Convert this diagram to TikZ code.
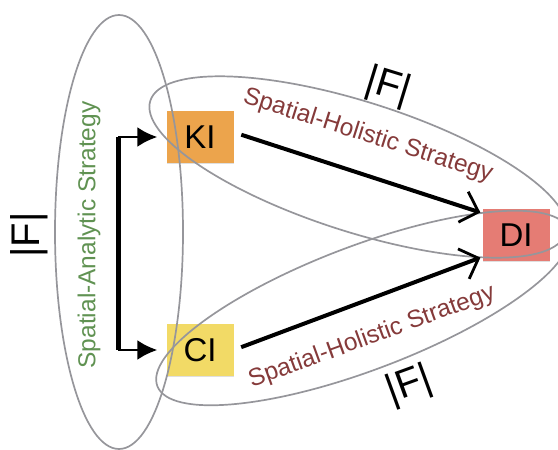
\documentclass[tikz,border=0pt]{standalone}
\usepackage{fontspec}
\setmainfont{Liberation Sans}
\usetikzlibrary{arrows.meta,shadows}
\definecolor{kiorange}{RGB}{236,164,76}
\definecolor{ciyellow}{RGB}{242,218,102}
\definecolor{disalmon}{RGB}{229,124,116}
\definecolor{ringgray}{RGB}{150,150,155}
\definecolor{analyticgreen}{RGB}{96,146,82}
\definecolor{holisticred}{RGB}{133,58,58}

\begin{document}
\begin{tikzpicture}[
                x=1pt,
                y=-1pt,
                box/.style={
                    rectangle,
                    minimum width=67pt,
                    minimum height=52pt,
                    inner sep=0pt,
                    font=\fontsize{33}{33}\selectfont,
                    drop shadow={opacity=0.25,shadow xshift=0.8pt,shadow yshift=-1.2pt}
                },
                ring/.style={
                    draw=ringgray,
                    line width=1.7pt
                },
                strategy/.style={
                    inner sep=0pt,
                    font=\fontsize{24.5}{24.5}\selectfont
                },
                card/.style={
                    inner sep=0pt,
                    font=\fontsize{40}{40}\selectfont
                },
                spine/.style={
                    line width=5pt
                },
                branch/.style={
                    line width=2.4pt,
                    shorten >=9pt,
                    -{Latex[length=20pt,width=20pt]}
                },
                stroke/.style={
                    line width=4pt,
                    shorten <=8pt,
                    shorten >=2pt,
                    -{Straight Barb[length=16pt,width=32pt,line width=2.8pt]}
                }
            ]

                \useasboundingbox (0,0) rectangle (558,450);

                \node[box, fill=kiorange] (KI) at (200,137) {KI};
                \node[box, fill=ciyellow] (CI) at (200,350) {CI};
                \node[box, fill=disalmon] (DI) at (516,235) {DI};

                \draw[ring] (119,232) ellipse [x radius=64pt, y radius=217pt];
                \draw[ring, rotate around={-17.7:(358,167)}] (358,167) ellipse [x radius=218pt, y radius=65pt];
                \draw[ring, rotate around={20.8:(363,308)}] (363,308) ellipse [x radius=220pt, y radius=62pt];

                \coordinate (split) at (118,243);

                \draw[spine] (split |- KI.west) -- (split |- CI.west);
                \draw[branch] (split |- KI.west) -- (KI.west);
                \draw[branch] (split |- CI.west) -- (CI.west);

                \draw[stroke] (KI.8) -- (DI.147);
                \draw[stroke] (CI.east) -- (DI.213);

                \node[strategy, text=analyticgreen, rotate=90] (analytic) at (89,235) {Spatial-Analytic Strategy};
                \node[strategy, text=holisticred, rotate=-17.5] (holistictop) at (368,136) {Spatial-Holistic Strategy};
                \node[strategy, text=holisticred, rotate=20] (holisticbottom) at (372,337) {Spatial-Holistic Strategy};

                \node[card, rotate=90] (cardleft) at (29,235) {|F|};
                \node[card, rotate=-17] (cardtop) at (388,87) {|F|};
                \node[card, rotate=20] (cardbottom) at (409,386) {|F|};

            \end{tikzpicture}
\end{document}
